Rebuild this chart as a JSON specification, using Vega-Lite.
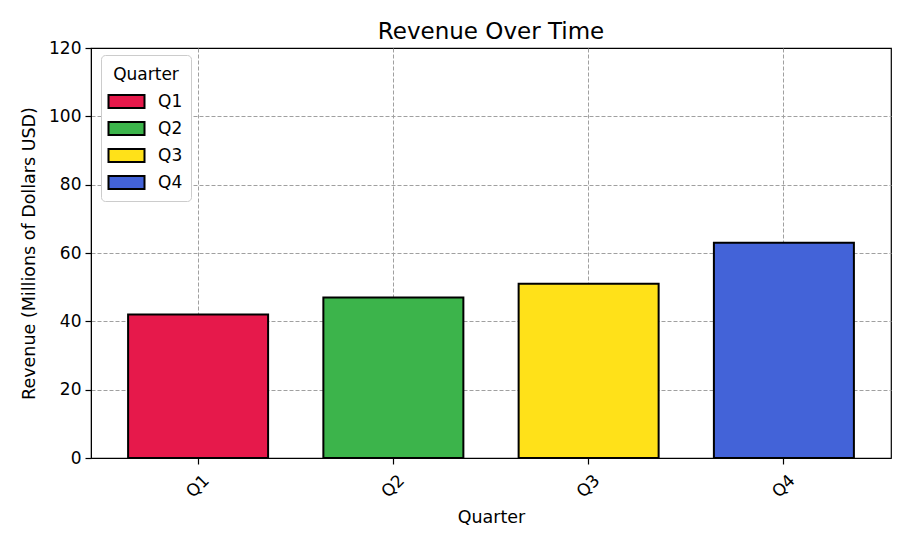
{
  "$schema": "https://vega.github.io/schema/vega-lite/v6.json",
  "width": 800,
  "height": 410,
  "autosize": "none",
  "padding": {"left": 91, "top": 48, "right": 19, "bottom": 88},
  "title": {"text": "Revenue Over Time", "fontSize": 23, "font": "DejaVu Sans", "fontWeight": "normal", "color": "black", "offset": -5},
  "data": {"values": [
    {"Quarter": "Q1", "Revenue": 42},
    {"Quarter": "Q2", "Revenue": 47},
    {"Quarter": "Q3", "Revenue": 51},
    {"Quarter": "Q4", "Revenue": 63}
  ]},
  "mark": {"type": "bar", "stroke": "black", "strokeWidth": 2, "opacity": 1},
  "encoding": {
    "x": {
      "field": "Quarter", "type": "nominal", "sort": null,
      "scale": {"paddingInner": 0.283, "paddingOuter": 0.19},
      "axis": {"title": "Quarter", "labelAngle": -45, "labelAlign": "center", "labelBaseline": "middle", "labelPadding": 22, "bandPosition": 0.5, "titlePadding": 8}
    },
    "y": {
      "field": "Revenue", "type": "quantitative",
      "scale": {"domain": [0, 120], "nice": false},
      "axis": {"values": [0, 20, 40, 60, 80, 100, 120], "title": "Revenue (Millions of Dollars USD)", "titlePadding": 10,
        "gridOpacity": {"condition": {"test": "datum.value === 120", "value": 0}, "value": 1}}
    },
    "color": {
      "field": "Quarter", "type": "nominal",
      "scale": {"domain": ["Q1", "Q2", "Q3", "Q4"], "range": ["#e6194b", "#3cb44b", "#ffe119", "#4363d8"]},
      "legend": {
        "title": "Quarter", "orient": "none", "legendX": 10, "legendY": 7,
        "padding": 8, "fillColor": "white", "strokeColor": "#cccccc", "cornerRadius": 4,
        "titleFontSize": 17, "titleFontWeight": "normal", "titleAnchor": "middle", "titleColor": "black", "titleFont": "DejaVu Sans",
        "titleBaseline": "line-top", "titleLineHeight": 25, "titlePadding": 13,
        "labelFontSize": 17, "labelColor": "black", "labelFont": "DejaVu Sans",
        "symbolType": "M-2.77,-1L2.77,-1L2.77,1L-2.77,1Z", "symbolSize": 169,
        "symbolStrokeColor": "black", "symbolStrokeWidth": 2, "symbolOpacity": 1,
        "symbolOffset": 9, "labelOffset": 23, "rowPadding": 6
      }
    }
  },
  "config": {
    "view": {"stroke": "black", "strokeWidth": 1.2},
    "font": "DejaVu Sans",
    "axis": {
      "labelFont": "DejaVu Sans", "titleFont": "DejaVu Sans",
      "labelFontSize": 17, "titleFontSize": 17.5, "titleFontWeight": "normal",
      "labelColor": "black", "titleColor": "black",
      "domainColor": "black", "tickColor": "black", "tickSize": 6, "tickWidth": 1.2,
      "grid": true, "gridColor": "#a0a0a0", "gridDash": [4, 2], "gridWidth": 1,
      "zindex": 1, "labelPadding": 4
    }
  }
}
